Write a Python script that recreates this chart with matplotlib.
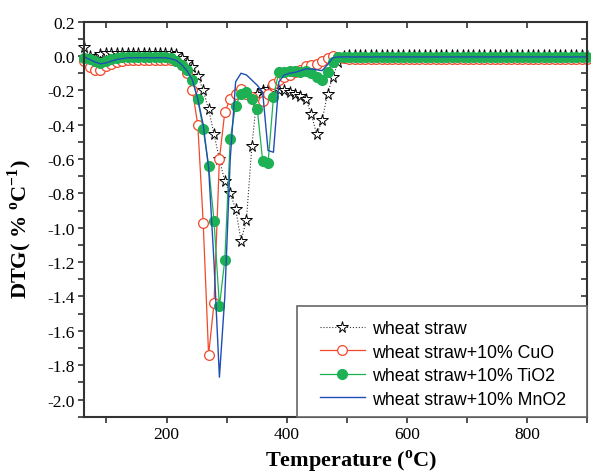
import matplotlib
matplotlib.use("Agg")
import matplotlib.pyplot as plt
from matplotlib.patches import Rectangle
from matplotlib.ticker import MultipleLocator, FormatStrFormatter

plt.rcParams["font.family"] = ["Liberation Serif", "DejaVu Serif"]
plt.rcParams["mathtext.fontset"] = "custom"
plt.rcParams["mathtext.rm"] = "Liberation Serif"
plt.rcParams["mathtext.bf"] = "Liberation Serif:bold"
plt.rcParams["axes.unicode_minus"] = False

# temperature (C)
temp = [63, 72, 81, 90, 99, 108, 117, 126, 135, 144,
        153, 162, 171, 180, 189, 198, 207, 216, 225, 234,
        243, 252, 261, 270, 279, 288, 297, 306, 315, 324,
        333, 342, 351, 360, 369, 378, 387, 396, 405, 414,
        423, 432, 441, 450, 459, 468, 477, 486, 495, 504,
        513, 522, 531, 540, 549, 558, 567, 576, 585, 594,
        603, 612, 621, 630, 639, 648, 657, 666, 675, 684,
        693, 702, 711, 720, 729, 738, 747, 756, 765, 774,
        783, 792, 801, 810, 819, 828, 837, 846, 855, 864,
        873, 882, 891, 900]

# DTG (% / C)
straw = [0.05, 0.0, -0.01, 0.01, 0.015, 0.02, 0.02, 0.02, 0.02, 0.02,
         0.02, 0.02, 0.02, 0.02, 0.02, 0.02, 0.02, 0.01, -0.01, -0.035,
         -0.065, -0.115, -0.2, -0.31, -0.455, -0.6, -0.73, -0.8, -0.89, -1.075,
         -0.955, -0.525, -0.22, -0.2, -0.19, -0.19, -0.195, -0.2, -0.21, -0.22,
         -0.235, -0.25, -0.34, -0.455, -0.375, -0.22, -0.12, -0.035, 0.0, 0.005,
         0.005, 0.005, 0.005, 0.005, 0.005, 0.005, 0.005, 0.005, 0.005, 0.005,
         0.005, 0.005, 0.005, 0.005, 0.005, 0.005, 0.005, 0.005, 0.005, 0.005,
         0.005, 0.005, 0.005, 0.005, 0.005, 0.005, 0.005, 0.005, 0.005, 0.005,
         0.005, 0.005, 0.005, 0.005, 0.005, 0.005, 0.005, 0.005, 0.005, 0.005,
         0.005, 0.005, 0.005, 0.005]

cuo = [-0.03, -0.065, -0.08, -0.08, -0.06, -0.045, -0.035, -0.03, -0.025, -0.025,
       -0.025, -0.025, -0.025, -0.025, -0.025, -0.025, -0.025, -0.03, -0.05, -0.1,
       -0.2, -0.4, -0.97, -1.74, -1.44, -0.6, -0.325, -0.25, -0.22, -0.19,
       -0.22, -0.24, -0.27, -0.26, -0.22, -0.16, -0.14, -0.12, -0.11, -0.095,
       -0.08, -0.06, -0.05, -0.045, -0.03, -0.01, 0.0, -0.005, -0.01, -0.015,
       -0.015, -0.015, -0.015, -0.015, -0.015, -0.015, -0.015, -0.015, -0.015, -0.015,
       -0.015, -0.015, -0.015, -0.015, -0.015, -0.015, -0.015, -0.015, -0.015, -0.015,
       -0.015, -0.015, -0.015, -0.015, -0.015, -0.015, -0.015, -0.015, -0.015, -0.015,
       -0.015, -0.015, -0.015, -0.015, -0.015, -0.015, -0.015, -0.015, -0.015, -0.015,
       -0.015, -0.015, -0.015, -0.015]

tio2 = [-0.01, -0.015, -0.03, -0.04, -0.03, -0.02, -0.01, -0.005, -0.005, -0.005,
        -0.005, -0.005, -0.005, -0.005, -0.005, -0.005, -0.01, -0.03, -0.05, -0.08,
        -0.14, -0.25, -0.425, -0.638, -0.958, -1.457, -1.187, -0.483, -0.289, -0.221,
        -0.211, -0.25, -0.308, -0.609, -0.622, -0.24, -0.09, -0.09, -0.085, -0.085,
        -0.09, -0.085, -0.1, -0.124, -0.14, -0.095, -0.037, -0.007, -0.005, -0.005,
        -0.005, -0.005, -0.005, -0.005, -0.005, -0.005, -0.005, -0.005, -0.005, -0.005,
        -0.005, -0.005, -0.005, -0.005, -0.005, -0.005, -0.005, -0.005, -0.005, -0.005,
        -0.005, -0.005, -0.005, -0.005, -0.005, -0.005, -0.005, -0.005, -0.005, -0.005,
        -0.005, -0.005, -0.005, -0.005, -0.005, -0.005, -0.005, -0.005, -0.005, -0.005,
        -0.005, -0.005, -0.005, -0.005]

mno2 = [-0.005, -0.02, -0.035, -0.045, -0.04, -0.03, -0.02, -0.015, -0.01, -0.01,
        -0.01, -0.01, -0.01, -0.01, -0.01, -0.01, -0.015, -0.025, -0.05, -0.085,
        -0.14, -0.25, -0.4, -0.65, -1.2, -1.87, -1.4, -0.6, -0.15, -0.1,
        -0.11, -0.14, -0.17, -0.21, -0.55, -0.56, -0.15, -0.11, -0.1, -0.095,
        -0.085, -0.075, -0.075, -0.08, -0.085, -0.05, -0.01, -0.005, -0.005, -0.005,
        -0.005, -0.005, -0.005, -0.005, -0.005, -0.005, -0.005, -0.005, -0.005, -0.005,
        -0.005, -0.005, -0.005, -0.005, -0.005, -0.005, -0.005, -0.005, -0.005, -0.005,
        -0.005, -0.005, -0.005, -0.005, -0.005, -0.005, -0.005, -0.005, -0.005, -0.005,
        -0.005, -0.005, -0.005, -0.005, -0.005, -0.005, -0.005, -0.005, -0.005, -0.005,
        -0.005, -0.005, -0.005, -0.005]

labels = ["wheat straw", "wheat straw+10% CuO",
          "wheat straw+10% TiO2", "wheat straw+10% MnO2"]

fig = plt.figure(figsize=(5.91, 4.77), dpi=100)
ax = fig.add_axes([0.1426, 0.1243, 0.8506, 0.8281])

ax.plot(temp, straw, ls=":", lw=0.8, color="#333333", marker="*", ms=8.5,
        mfc="white", mec="black", mew=0.7, label=labels[0], clip_on=False)
ax.plot(temp, cuo, ls="-", lw=0.9, color="#f0492b", marker="o", ms=7,
        mfc="white", mec="#f0492b", mew=0.9, label=labels[1], clip_on=False)
ax.plot(temp, tio2, ls="-", lw=0.9, color="#1db154", marker="o", ms=7,
        mfc="#1db154", mec="#1db154", label=labels[2], clip_on=False)
ax.plot(temp, mno2, ls="-", lw=1.0, color="#1f4eb4", label=labels[3])

ax.set_xlim(63, 900)
ax.set_ylim(-2.1, 0.2)
ax.xaxis.set_major_locator(MultipleLocator(200))
ax.xaxis.set_minor_locator(MultipleLocator(100))
ax.yaxis.set_major_locator(MultipleLocator(0.2))
ax.yaxis.set_minor_locator(MultipleLocator(0.1))
ax.yaxis.set_major_formatter(FormatStrFormatter("%.1f"))

for s in ax.spines.values():
    s.set_linewidth(1.5)
    s.set_color("#333333")

ax.tick_params(which="both", direction="out", length=4, width=1.2,
               color="#333333", labelsize=12.5, pad=3)
ax.tick_params(which="both", top=True, right=True)
# top / right ticks point inward
for t in ax.xaxis.get_major_ticks() + ax.xaxis.get_minor_ticks():
    t.tick2line.set_marker(3)
for t in ax.yaxis.get_major_ticks() + ax.yaxis.get_minor_ticks():
    t.tick2line.set_marker(0)

ax.set_xlabel(r"Temperature ($^{\mathbf{o}}$C)", fontsize=16, fontweight="bold")
ax.set_ylabel(r"DTG( % $^{\mathbf{o}}$C$^{\mathbf{-1}}$)", fontsize=16,
              fontweight="bold")
ax.xaxis.set_label_coords(0.53, -0.078)
ax.yaxis.set_label_coords(-0.1, 0.478)

# legend box sits in the lower right corner
ax.add_patch(Rectangle((0.423, 0.0), 0.577, 0.28, transform=ax.transAxes,
                       facecolor="white", edgecolor="#666666", lw=1.2,
                       zorder=5, clip_on=False))
leg = ax.legend(loc="upper left", bbox_to_anchor=(0.462, 0.254), frameon=False,
                prop={"family": "Liberation Sans", "size": 12.8},
                handlelength=2.5, handletextpad=0.4, labelspacing=0.37,
                borderpad=0.2, borderaxespad=0)
leg.set_zorder(6)

fig.savefig("out.png", dpi=100)
